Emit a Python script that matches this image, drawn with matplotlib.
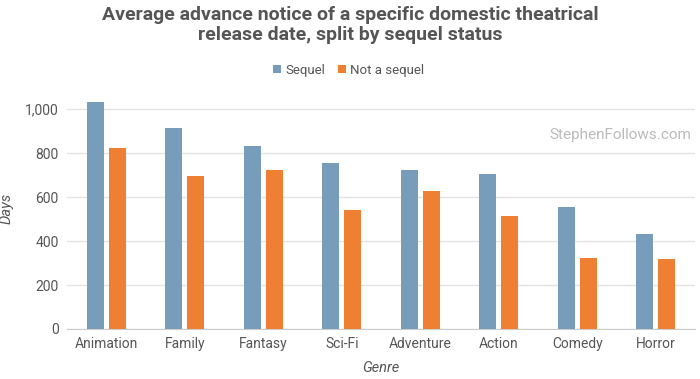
import matplotlib.pyplot as plt
import numpy as np

plt.rcParams['font.family'] = ['Roboto', 'DejaVu Sans']

genres = ["Animation", "Family", "Fantasy", "Sci-Fi", "Adventure", "Action", "Comedy", "Horror"]
sequel = [1032, 915, 832, 757, 724, 707, 553, 430]
not_sequel = [823, 697, 723, 539, 629, 514, 325, 318]

blue = "#779dbb"
orange = "#ef7f33"
text_col = "#555555"

fig = plt.figure(figsize=(7, 3.79), dpi=100)
ax = fig.add_axes([0.0957, 0.132, 0.897, 0.638])

x = np.arange(len(genres))
w = 0.22
ax.bar(x - 0.14, sequel, w, color=blue, label="Sequel", zorder=3)
ax.bar(x + 0.14, not_sequel, w, color=orange, label="Not a sequel", zorder=3)

ax.set_xlim(-0.5, len(genres) - 0.5)
ax.set_ylim(0, 1100)
ax.set_yticks([0, 200, 400, 600, 800, 1000])
ax.set_yticklabels(["0", "200", "400", "600", "800", "1,000"])
ax.set_xticks(x)
ax.set_xticklabels(genres)
ax.tick_params(length=0, labelsize=10, colors=text_col, pad=6)
ax.grid(axis="y", color="#e3e3e3", linewidth=1, zorder=0)
for s in ["top", "right", "left"]:
    ax.spines[s].set_visible(False)
ax.spines["bottom"].set_color("#cccccc")

ax.set_ylabel("Days", fontsize=10.5, style="italic", color=text_col, labelpad=8)
ax.set_xlabel("Genre", fontsize=10.5, style="italic", color=text_col, labelpad=7)

fig.text(0.5, 0.985, "Average advance notice of a specific domestic theatrical\nrelease date, split by sequel status",
         ha="center", va="top", fontsize=14, fontweight="bold", color=text_col, linespacing=1.2)

ax.legend(loc="center", bbox_to_anchor=(0.449, 1.07), ncol=2, frameon=False,
          fontsize=9.5, handlelength=0.6, handleheight=0.6, handletextpad=0.3,
          columnspacing=1.0, labelcolor=text_col)

fig.text(0.988, 0.643, "StephenFollows.com", ha="right", va="center", fontsize=11, color="#bbbbbb")

fig.savefig("out.png", dpi=100, facecolor="white")
